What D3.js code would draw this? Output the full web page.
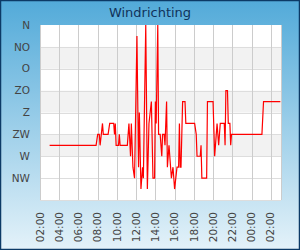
<!DOCTYPE html>
<html>
<head>
<meta charset="utf-8">
<script src="https://cdn.jsdelivr.net/npm/d3@7"></script>
<style>
  body { margin: 0; }
  svg { display: block; font-family: "DejaVu Sans", sans-serif; }
</style>
</head>
<body>
<svg width="300" height="250"></svg>
<script>
// wind direction labels (Dutch) and their degrees
const dirLabels = ["N", "NO", "O", "ZO", "Z", "ZW", "W", "NW"]
const dirTicks = [0, 45, 90, 135, 180, 225, 270, 315]

// time axis ticks, every 2 hours
const timeTicks = ["02:00", "04:00", "06:00", "08:00", "10:00", "12:00", "14:00",
    "16:00", "18:00", "20:00", "22:00", "00:00", "02:00"]
const axisEnd = "03:04"

// measured wind direction (degrees) at each time
const times = ["03:00", "07:50", "08:00", "08:10", "08:15", "08:30", "08:35", "09:05", "09:15", "09:40",
    "09:45", "09:50", "09:55", "10:10", "10:15", "10:20", "11:05", "11:15", "11:25", "11:30",
    "11:40", "11:50", "12:05", "12:15", "12:20", "12:30", "12:40", "12:45", "13:00", "13:10",
    "13:20", "13:35", "13:45", "13:55", "14:00", "14:05", "14:15", "14:20", "14:30", "14:40",
    "14:45", "14:55", "15:00", "15:10", "15:15", "15:25", "15:30", "15:40", "15:50", "16:00",
    "16:15", "16:25", "16:30", "16:35", "16:40", "16:50", "17:05", "17:10", "18:05", "18:15",
    "18:20", "18:40", "18:45", "18:50", "19:20", "19:25", "20:00", "20:10", "20:25", "20:35",
    "20:45", "21:10", "21:15", "21:20", "21:30", "21:35", "21:45", "21:50", "21:55", "01:05",
    "01:15", "03:00"]
const degrees = [247.5, 247.5, 225, 225, 247.5, 202.5, 225, 225, 202.5, 202.5,
    225, 202.5, 247.5, 247.5, 225, 247.5, 247.5, 202.5, 270, 202.5,
    292.5, 315, 22.5, 292.5, 180, 337.5, 292.5, 315, 0, 337.5,
    202.5, 157.5, 315, 315, 157.5, 202.5, 0, 225, 225, 270,
    225, 225, 247.5, 157.5, 292.5, 247.5, 270, 315, 292.5, 337.5,
    292.5, 292.5, 202.5, 292.5, 292.5, 157.5, 157.5, 202.5, 202.5, 225,
    270, 270, 247.5, 315, 315, 157.5, 157.5, 270, 202.5, 247.5,
    202.5, 202.5, 247.5, 135, 135, 202.5, 202.5, 247.5, 225, 225,
    157.5, 157.5]

// turn "HH:MM" lists into dates, rolling over to the next day when time goes back
function toDates(list){
    let day = 0, prev = -1
    return list.map(s => {
        const [h, m] = s.split(":").map(Number)
        const mins = h * 60 + m
        if (mins < prev) day++
        prev = mins
        return new Date(2024, 0, 1 + day, h, m)
    })
}

const tickDates = toDates(timeTicks)
const dataDates = toDates(times)
const data = dataDates.map((d, i) => ({date: d, deg: degrees[i]}))
const endDate = new Date(2024, 0, 2, ...axisEnd.split(":").map(Number))

const width = 300, height = 250
const margin = {top: 25, right: 19, bottom: 50, left: 40}

const svg = d3.select("svg")

const defs = svg.append("defs")
const grad = defs.append("linearGradient")
    .attr("id", "bg")
    .attr("x1", 0).attr("y1", 0).attr("x2", 0).attr("y2", 1)
grad.append("stop").attr("offset", "0%").attr("stop-color", "#52aad9")
grad.append("stop").attr("offset", "100%").attr("stop-color", "#e4f2f9")

svg.append("rect")
    .attr("width", width)
    .attr("height", height)
    .style("fill", "url(#bg)")

svg.append("rect")
    .attr("x", 0.5).attr("y", 0.5)
    .attr("width", width - 1)
    .attr("height", height - 1)
    .style("fill", "none")
    .style("stroke", "#0c3a66")
    .style("stroke-width", 1.5)

const x = d3.scaleTime()
    .domain([tickDates[0], endDate])
    .range([margin.left, width - margin.right])

const y = d3.scaleLinear()
    .domain([0, 360])
    .range([margin.top, height - margin.bottom])

// plot background with alternating bands
svg.append("rect")
    .attr("x", margin.left)
    .attr("y", margin.top)
    .attr("width", width - margin.left - margin.right)
    .attr("height", height - margin.top - margin.bottom)
    .style("fill", "#fff")

svg.append("g")
    .selectAll("rect")
    .data(dirTicks.filter((d, i) => i % 2 == 1 && d < 315))
    .enter()
    .append("rect")
    .attr("x", margin.left)
    .attr("y", d => y(d))
    .attr("width", width - margin.left - margin.right)
    .attr("height", d => y(d + 45) - y(d))
    .style("fill", "#f2f2f2")

// horizontal grid
svg.append("g")
    .selectAll("line")
    .data(dirTicks.slice(1).concat([360]))
    .enter()
    .append("line")
    .attr("x1", margin.left)
    .attr("x2", width - margin.right)
    .attr("y1", d => Math.round(y(d)) + 0.5)
    .attr("y2", d => Math.round(y(d)) + 0.5)
    .style("stroke", "#dddddd")

// vertical grid
svg.append("g")
    .selectAll("line")
    .data(tickDates)
    .enter()
    .append("line")
    .attr("x1", d => Math.round(x(d)) + 0.5)
    .attr("x2", d => Math.round(x(d)) + 0.5)
    .attr("y1", margin.top)
    .attr("y2", height - margin.bottom)
    .style("stroke", "#cccccc")

svg.append("line")
    .attr("x1", width - margin.right + 0.5)
    .attr("x2", width - margin.right + 0.5)
    .attr("y1", margin.top)
    .attr("y2", height - margin.bottom)
    .style("stroke", "#cccccc")

// the wind direction line
const line = d3.line()
    .x(d => x(d.date))
    .y(d => y(d.deg))

svg.append("path")
    .datum(data)
    .attr("d", line)
    .style("fill", "none")
    .style("stroke", "#ff0000")
    .style("stroke-width", 1.2)

// y labels
svg.append("g")
    .selectAll("text")
    .data(dirTicks)
    .enter()
    .append("text")
    .attr("x", 30)
    .attr("y", d => y(d))
    .attr("dy", "0.35em")
    .style("text-anchor", "end")
    .style("font-size", "10.5px")
    .style("fill", "#444")
    .text((d, i) => dirLabels[i])

// x labels, rotated
svg.append("g")
    .selectAll("text")
    .data(tickDates)
    .enter()
    .append("text")
    .attr("transform", d => `translate(${x(d)}, 212) rotate(-90)`)
    .attr("dy", "0.35em")
    .style("text-anchor", "end")
    .style("font-size", "10.5px")
    .style("fill", "#444")
    .text(d => d3.timeFormat("%H:%M")(d))

// title
svg.append("text")
    .attr("x", width / 2)
    .attr("y", 12)
    .attr("dy", "0.35em")
    .style("text-anchor", "middle")
    .style("font-size", "13px")
    .style("fill", "#10325a")
    .text("Windrichting")
</script>
</body>
</html>
